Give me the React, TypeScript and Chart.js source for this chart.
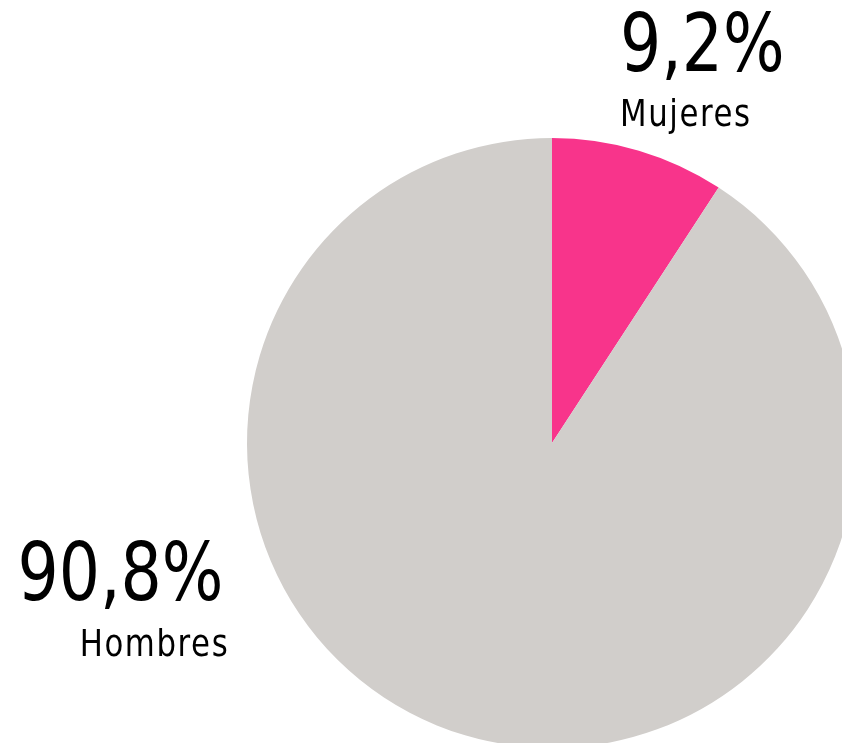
import React, { useEffect, useRef } from "react";
import { Chart, registerables } from "chart.js";

Chart.register(...registerables);

const categories = ["Mujeres", "Hombres"];
const values = [9.2, 90.8];
const valueLabels = ["9,2%", "90,8%"];
const colors = ["#F8348B", "#D1CECB"];

const FONT = "'DejaVu Sans Condensed', 'DejaVu Sans', sans-serif";

export default function App() {
  const ref = useRef<HTMLCanvasElement | null>(null);

  useEffect(() => {
    if (!ref.current) return;
    const chart = new Chart(ref.current, {
      type: "pie",
      data: {
        labels: categories,
        datasets: [
          {
            data: values,
            backgroundColor: colors,
            borderWidth: 0,
          },
        ],
      },
      options: {
        animation: false,
        responsive: false,
        maintainAspectRatio: false,
        layout: { padding: { top: 138, bottom: 138, left: 247, right: 247 } },
        plugins: {
          legend: { display: false },
          tooltip: { enabled: false },
        },
      },
    });
    return () => chart.destroy();
  }, []);

  const big: React.CSSProperties = {
    position: "absolute",
    fontFamily: FONT,
    fontSize: 81,
    lineHeight: "81px",
    color: "#000",
    letterSpacing: 0,
    whiteSpace: "nowrap",
    transform: "scaleX(0.89)",
  };
  const small: React.CSSProperties = {
    position: "absolute",
    fontFamily: FONT,
    fontSize: 38,
    lineHeight: "38px",
    color: "#000",
    letterSpacing: 1.8,
    whiteSpace: "nowrap",
    transform: "scaleX(0.9)",
  };

  return (
    <div
      style={{
        position: "fixed",
        left: 0,
        top: 0,
        width: 842,
        height: 743,
        overflow: "hidden",
        background: "#fff",
      }}
    >
      <canvas
        ref={ref}
        width={1104}
        height={886}
        style={{ position: "absolute", left: 0, top: 0, width: 1104, height: 886 }}
      />
      <div style={{ ...big, left: 620, top: 3, transformOrigin: "left top" }}>{valueLabels[0]}</div>
      <div style={{ ...small, left: 620, top: 94, transformOrigin: "left top" }}>{categories[0]}</div>
      <div style={{ ...big, right: 842 - 223, top: 532, transformOrigin: "right top" }}>{valueLabels[1]}</div>
      <div style={{ ...small, right: 842 - 229, top: 624, transformOrigin: "right top" }}>{categories[1]}</div>
    </div>
  );
}
